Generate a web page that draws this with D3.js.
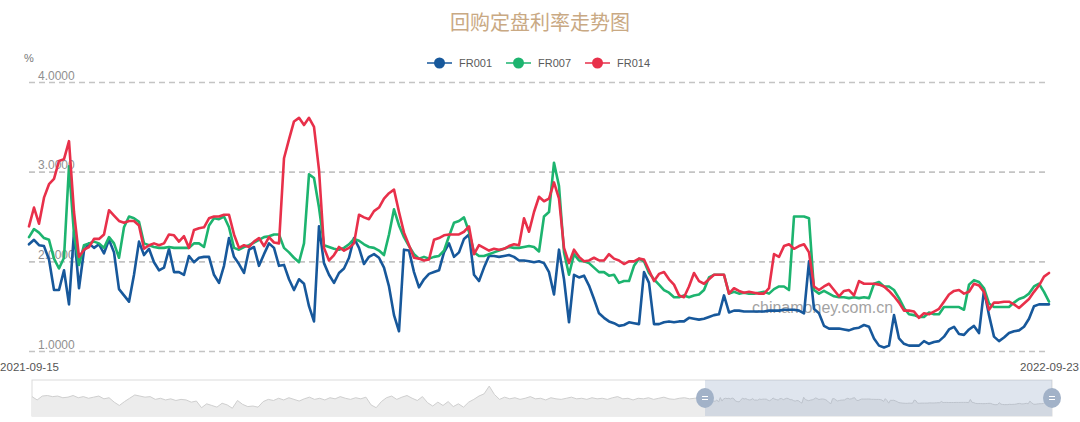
<!DOCTYPE html>
<html><head><meta charset="utf-8">
<script src="https://cdn.jsdelivr.net/npm/d3@7"></script>
<style>body{margin:0;background:#fff}svg{display:block}</style>
</head><body><svg id="c" width="1080" height="422"></svg>
<script>
const chartTitle = "回购定盘利率走势图";
const seriesNames = ["FR001", "FR007", "FR014"];
const seriesColors = ["#17589b", "#1db46f", "#e8304a"];
const xTickLabels = ["2021-09-15", "2022-09-23"];
const yTicks = [1, 2, 3, 4];
const yUnit = "%";
const watermark = "chinamoney.com.cn";

const fr001 = [
2.19,2.24,2.18,2.17,2.02,1.68,1.68,1.90,1.52,2.33,
1.70,2.12,2.20,2.15,2.19,2.09,2.24,2.10,1.69,1.62,
1.55,1.85,2.22,2.07,2.14,1.99,1.90,1.93,2.14,1.88,
1.88,1.85,2.06,1.99,2.04,2.05,2.05,1.85,1.76,1.95,
2.26,2.05,1.97,1.87,2.13,2.16,1.95,2.08,2.20,2.15,
1.95,1.96,1.80,1.68,1.80,1.75,1.50,1.33,2.39,1.98,
1.85,1.76,1.87,1.92,2.04,2.26,2.15,1.97,2.05,2.08,
2.04,1.93,1.72,1.40,1.22,2.13,2.12,1.88,1.71,1.80,
1.86,1.88,1.90,2.10,2.20,2.05,2.10,2.25,2.30,1.85,
1.78,1.93,2.06,2.06,2.05,2.06,2.07,2.05,2.01,2.01,
2.00,1.99,2.00,1.98,1.88,1.63,2.13,1.80,1.32,1.85,
1.82,1.84,1.73,1.58,1.42,1.37,1.33,1.31,1.28,1.29,
1.32,1.31,1.30,1.88,1.76,1.30,1.30,1.32,1.33,1.32,
1.33,1.33,1.37,1.36,1.35,1.36,1.38,1.40,1.41,1.62,
1.43,1.45,1.45,1.44,1.44,1.44,1.44,1.44,1.45,1.45,
1.45,1.46,1.46,1.46,1.45,1.42,2.00,1.47,1.42,1.28,
1.25,1.25,1.25,1.24,1.23,1.25,1.26,1.29,1.27,1.14,
1.06,1.04,1.06,1.40,1.14,1.08,1.06,1.06,1.06,1.11,
1.08,1.10,1.11,1.16,1.24,1.27,1.19,1.18,1.24,1.28,
1.20,1.68,1.40,1.16,1.11,1.15,1.20,1.22,1.23,1.27,
1.36,1.50,1.52,1.52,1.52];

const fr007 = [
2.27,2.36,2.32,2.26,2.24,2.03,1.92,2.04,3.06,2.30,
1.96,2.18,2.20,2.22,2.20,2.15,2.27,2.20,2.04,2.38,
2.50,2.48,2.44,2.20,2.18,2.16,2.15,2.15,2.16,2.15,
2.15,2.15,2.15,2.20,2.20,2.16,2.40,2.48,2.47,2.50,
2.38,2.15,2.13,2.16,2.18,2.21,2.24,2.27,2.28,2.30,
2.30,2.15,2.10,2.04,1.99,2.20,2.97,2.93,2.60,2.18,
2.16,2.14,2.13,2.15,2.19,2.25,2.23,2.19,2.16,2.15,
2.12,2.07,2.30,2.58,2.40,2.27,2.17,2.08,2.03,2.05,
2.03,2.05,2.06,2.12,2.28,2.43,2.45,2.49,2.33,2.10,
2.06,2.06,2.08,2.10,2.12,2.14,2.16,2.15,2.15,2.16,
2.17,2.16,2.11,2.50,2.55,3.10,2.84,2.10,1.85,2.08,
2.01,2.00,1.98,1.93,1.88,1.88,1.84,1.85,1.76,1.78,
1.78,1.95,2.03,2.00,1.87,1.80,1.74,1.68,1.65,1.60,
1.60,1.62,1.60,1.62,1.63,1.68,1.82,1.85,1.85,1.85,
1.64,1.66,1.64,1.65,1.64,1.64,1.65,1.66,1.64,1.69,
1.72,1.72,1.68,2.50,2.50,2.50,2.48,1.68,1.64,1.67,
1.64,1.61,1.60,1.60,1.59,1.60,1.59,1.60,1.59,1.75,
1.77,1.72,1.72,1.68,1.59,1.48,1.41,1.40,1.38,1.38,
1.43,1.41,1.41,1.49,1.49,1.49,1.49,1.46,1.74,1.79,
1.77,1.70,1.53,1.49,1.49,1.49,1.49,1.54,1.58,1.60,
1.64,1.72,1.75,1.66,1.55];

const fr014 = [
2.39,2.60,2.42,2.71,2.86,2.92,3.12,3.14,3.34,2.55,
2.05,2.13,2.16,2.25,2.25,2.30,2.57,2.51,2.45,2.43,
2.45,2.45,2.40,2.14,2.18,2.20,2.18,2.20,2.30,2.29,
2.22,2.28,2.15,2.35,2.37,2.38,2.48,2.50,2.50,2.52,
2.52,2.30,2.15,2.18,2.16,2.22,2.26,2.17,2.27,2.21,
2.20,3.15,3.36,3.56,3.60,3.52,3.60,3.50,3.02,2.15,
2.01,2.07,2.16,2.12,2.15,2.20,2.52,2.49,2.47,2.56,
2.60,2.70,2.76,2.80,2.55,2.32,2.18,2.04,2.03,2.01,
2.02,2.24,2.26,2.29,2.30,2.30,2.30,2.33,2.39,2.08,
2.18,2.15,2.12,2.14,2.13,2.14,2.17,2.19,2.18,2.48,
2.33,2.55,2.72,2.67,2.70,2.88,2.70,2.15,1.98,2.13,
2.05,2.00,2.01,2.04,2.01,2.01,2.08,2.03,2.01,1.97,
2.00,2.00,2.03,2.02,1.90,1.78,1.86,1.88,1.80,1.74,
1.62,1.60,1.72,1.87,1.78,1.75,1.80,1.85,1.85,1.85,
1.64,1.70,1.67,1.65,1.66,1.65,1.64,1.64,1.70,2.08,
2.05,2.17,2.19,2.14,2.17,2.19,2.10,1.72,1.68,1.72,
1.75,1.68,1.61,1.67,1.68,1.62,1.78,1.75,1.75,1.75,
1.74,1.72,1.67,1.61,1.54,1.45,1.45,1.44,1.37,1.42,
1.41,1.44,1.47,1.55,1.63,1.67,1.68,1.64,1.66,1.75,
1.73,1.66,1.46,1.54,1.54,1.55,1.55,1.52,1.48,1.53,
1.58,1.66,1.73,1.83,1.87];

// FR001 before the shown window (used only for the zoom-slider shadow)
const fr001History = [
2.5,1.9,2.6,2.7,2.5,2.6,2.3,2.4,2.7,
2.3,2.5,2.2,2.4,2.6,2.1,2.3,1.5,0.9,
1.6,2.2,2.8,2.6,2.4,2.5,2.0,
2.2,1.9,2.1,1.8,2.0,1.9,1.5,1.7,
0.5,1.2,0.9,0.6,1.3,1.0,0.4,1.8,1.1,0.7,0.8,0.6,
1.6,2.0,1.8,2.2,1.9,2.3,2.0,1.7,2.1,2.4,2.0,2.2,1.9,2.3,2.1,2.5,2.2,2.0,2.3,2.1,2.4,
1.0,0.5,1.6,
2.3,2.6,2.0,2.4,2.7,2.2,1.8,2.5,
1.4,0.8,1.5,0.9,1.6,0.7,1.2,0.6,1.5,
2.0,2.6,3.0,4.4,2.9,
2.0,2.4,2.1,2.3,2.0,2.2,2.5,2.1,2.2,1.9,2.3,2.1,2.0,2.2,2.4,2.1,2.2,2.0,2.3,2.1,
2.2,2.0,2.3,2.5,2.1,2.2,1.9,2.2,2.1,2.3,2.0,2.2,2.4,2.1,2.0,2.2,2.3,2.1,2.2,2.3];

const series = [fr001, fr007, fr014];
const svg = d3.select("#c");
const font = "'Liberation Sans', Arial, sans-serif";
const n = fr001.length;

const x = d3.scaleLinear().domain([0, n - 1]).range([29, 1049]);
const y = d3.scaleLinear().domain([1, 4]).range([351, 82]);

// title
svg.append("text").attr("x", 540).attr("y", 30).attr("text-anchor", "middle")
  .attr("font-family", "'Noto Sans CJK SC', sans-serif").attr("font-size", 20)
  .attr("fill", "#c9a983").text(chartTitle);

// unit
svg.append("text").attr("x", 24).attr("y", 62).attr("font-family", font)
  .attr("font-size", 11).attr("fill", "#777").text(yUnit);

// legend
const lg = svg.append("g").attr("font-family", font).attr("font-size", 11);
seriesNames.forEach((s, k) => {
  const lx = 427 + k * 79;
  const g = lg.append("g").attr("transform", `translate(${lx},63)`);
  g.append("line").attr("x1", 0).attr("x2", 25).attr("stroke", seriesColors[k]).attr("stroke-width", 2).attr("opacity", 0.75);
  g.append("circle").attr("cx", 12.5).attr("r", 5.5).attr("fill", seriesColors[k]);
  g.append("text").attr("x", 32).attr("y", 4).attr("fill", "#5a5a5a").text(s);
});

// y axis with dashed grid
const yAxis = svg.append("g").attr("transform", "translate(29,0)")
  .call(d3.axisRight(y).tickValues(yTicks).tickSize(1020).tickFormat(d3.format(".4f")));
yAxis.select(".domain").remove();
yAxis.selectAll(".tick line").attr("stroke", "#c4c4c4").attr("stroke-width", 1.6).attr("stroke-dasharray", "6,4");
yAxis.selectAll(".tick text").attr("x", 9).attr("dy", -3).attr("text-anchor", "start")
  .attr("font-family", font).attr("font-size", 12).attr("fill", "#8f8f8f");

// x axis (first and last labels)
const xAxis = svg.append("g").attr("transform", "translate(0,357)")
  .call(d3.axisBottom(x).tickValues([0, n - 1]).tickSize(0).tickPadding(6)
    .tickFormat((d, i) => xTickLabels[i]));
xAxis.select(".domain").remove();
xAxis.selectAll(".tick text").attr("font-family", font).attr("font-size", 11.5).attr("fill", "#555");

// watermark
svg.append("text").attr("x", 752).attr("y", 313).attr("font-family", font)
  .attr("font-size", 16).attr("fill", "#8c8c8c").attr("opacity", 0.8).text(watermark);

// lines
const line = d3.line().x((d, i) => x(i)).y(d => y(d));
series.forEach((s, k) => {
  svg.append("path").datum(s).attr("d", line).attr("fill", "none")
    .attr("stroke", seriesColors[k]).attr("stroke-width", 2.6)
    .attr("stroke-linejoin", "round").attr("stroke-linecap", "round");
});

// data zoom slider
const sx = d3.scaleLinear().domain([0, 2, 3]).range([32, 705, 1052]);
const sy = d3.scaleLinear().domain([-1, 5.5]).range([416, 380]);
const shadow = fr001History.map((v, i) => [2 * i / fr001History.length, v])
  .concat(fr001.map((v, i) => [2 + i / (n - 1), v]));
const slider = svg.append("g");
slider.append("rect").attr("x", 32).attr("y", 380).attr("width", 1020).attr("height", 36)
  .attr("fill", "#fff").attr("stroke", "#dcdcdc");
slider.append("path").datum(shadow)
  .attr("d", d3.area().x(d => sx(d[0])).y0(416).y1(d => sy(d[1])))
  .attr("fill", "#ececec");
slider.append("path").datum(shadow)
  .attr("d", d3.line().x(d => sx(d[0])).y(d => sy(d[1])))
  .attr("fill", "none").attr("stroke", "#cfcfcf").attr("stroke-width", 1);
slider.append("rect").attr("x", sx(2)).attr("y", 380).attr("width", sx(3) - sx(2)).attr("height", 36)
  .attr("fill", "rgb(150,168,200)").attr("opacity", 0.3);
[2, 3].forEach(p => {
  const h = slider.append("g").attr("transform", `translate(${sx(p)},398)`);
  h.append("ellipse").attr("rx", 9).attr("ry", 10).attr("fill", "#a2b2c8");
  h.append("line").attr("x1", -3).attr("x2", 3).attr("y1", -1.5).attr("y2", -1.5).attr("stroke", "#fff").attr("stroke-width", 1);
  h.append("line").attr("x1", -3).attr("x2", 3).attr("y1", 1.5).attr("y2", 1.5).attr("stroke", "#fff").attr("stroke-width", 1);
});
</script></body></html>
